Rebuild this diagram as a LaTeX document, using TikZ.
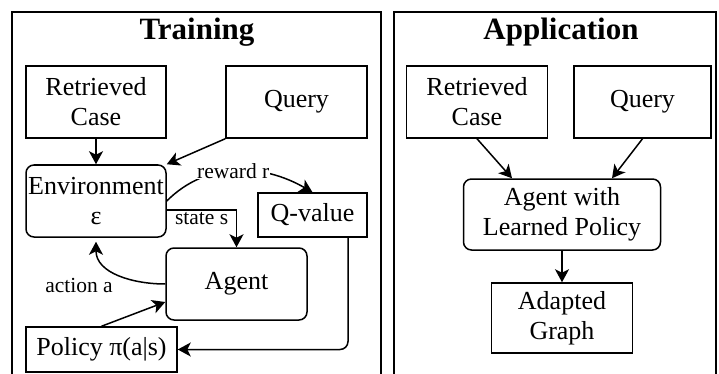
\documentclass[tikz,border=0pt]{standalone}
\usepackage{fontspec}
\setmainfont{Liberation Serif}
\usetikzlibrary{arrows.meta}
\begin{document}
\begin{tikzpicture}[x=1pt,y=-1pt,
  box/.style={draw, line width=1.5pt, inner sep=0pt, align=center,
    font=\fontsize{26}{30}\selectfont},
  rbox/.style={box, rounded corners=8pt},
  arr/.style={-{Stealth[length=13pt,width=14pt,inset=3.5pt]}, line width=1.5pt},
  lbl/.style={font=\fontsize{21.5}{25}\selectfont, inner sep=1pt},
  paneltitle/.style={font=\bfseries\fontsize{31}{36}\selectfont, anchor=base, inner sep=0pt},
  frame/.style={line width=1.5pt}]
\useasboundingbox (0,0) rectangle (719,374);

% panel frames (open at the bottom)
\draw[frame] (12,376) -- (12,12) -- (381,12) -- (381,376);
\draw[frame] (394,376) -- (394,12) -- (716,12) -- (716,376);
\node[paneltitle] (ttrain) at (197,40) {Training};
\node[paneltitle] (tapp) at (561,40) {Application};

% ---- training loop ----
\node[box, minimum width=140pt, minimum height=72pt] (rcl) at (96,102) {Retrieved\\Case};
\node[box, minimum width=141pt, minimum height=72pt] (ql) at (296.5,102) {Query};
\node[rbox, minimum width=140pt, minimum height=72pt] (env) at (96,201) {Environment\\ε};
\node[box, minimum width=109pt, minimum height=44pt] (qv) at (312.5,215) {Q-value};
\node[rbox, minimum width=141pt, minimum height=72pt] (agent) at (236.5,284) {Agent};
\node[box, minimum width=151pt, minimum height=45pt] (pol) at (101.5,349.5) {Policy π(a|s)};

\draw[arr] (rcl) -- (env);
\draw[arr] (ql.south west) -- (env.north east);
\draw[arr] (env.east) to[out=45,in=150]
  node[lbl, pos=0.48, fill=white] {reward r} (qv.north);
\draw[arr] ([yshift=-9pt]env.east) -| node[lbl, pos=0.25, below=1pt] {state s} (agent.north);
\draw[arr] (agent.west) to[out=180,in=-90] ([yshift=-4pt]env.south);
\node[lbl] (acta) at (79,285) {action a};
\draw[arr] (pol.north) -- ([yshift=-18pt]agent.west);
\draw[arr, rounded corners=8pt] ([xshift=35.5pt]qv.south) |- (pol.east);

% ---- application ----
\node[box, minimum width=141pt, minimum height=72pt] (rcr) at (477,102) {Retrieved\\Case};
\node[box, minimum width=137pt, minimum height=72pt] (qr) at (642.5,102) {Query};
\node[rbox, minimum width=197pt, minimum height=71pt] (awlp) at (562,214.5) {Agent with\\Learned Policy};
\node[box, minimum width=141pt, minimum height=70pt] (ag) at (562,318) {Adapted\\Graph};

\draw[arr] (rcr.south) -- ([xshift=-50pt]awlp.north);
\draw[arr] (qr.south) -- ([xshift=50pt]awlp.north);
\draw[arr] (awlp) -- (ag);
\end{tikzpicture}
\end{document}
